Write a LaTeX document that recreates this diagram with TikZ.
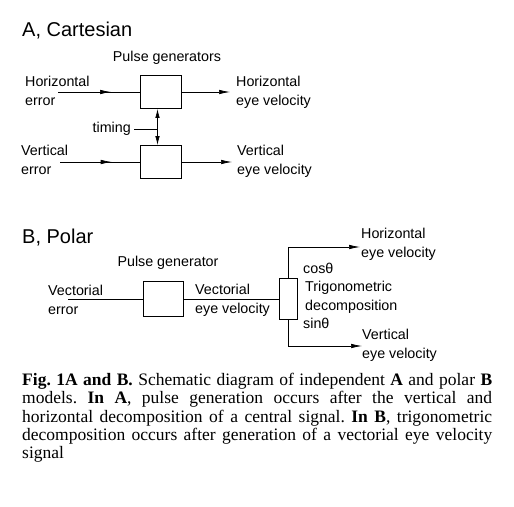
\documentclass[tikz,border=0pt]{standalone}
\usepackage{fontspec}
\setmainfont{Liberation Serif}
\setsansfont{Liberation Sans}
\usetikzlibrary{arrows.meta,decorations.markings}

\begin{document}
\begin{tikzpicture}[%
      x=1pt, y=-1pt,
      lbl/.style={font=\sffamily\fontsize{14.3}{19}\selectfont, inner sep=0pt, align=left},
      ttl/.style={font=\sffamily\fontsize{20}{24}\selectfont, inner sep=0pt},
      blk/.style={draw, line width=0.8pt, inner sep=0pt},
      sig/.style={line width=0.7pt},
      outarr/.style={sig, -{Latex[length=11pt,width=4.5pt]}},
      midarr/.style={sig, postaction={decorate},
        decoration={markings, mark=at position 0.65 with {\arrow{Latex[length=11pt,width=4.5pt]}}}},
      ]
      \useasboundingbox (0,0) rectangle (514,506);

      % A, Cartesian
      \node [ttl, anchor=west] (titA) at (22,31) {A, Cartesian};
      \node [lbl, anchor=center] (pgens) at (167,58) {Pulse generators};

      \node [blk, minimum width=41pt, minimum height=33pt] (hbox) at (160.5,92) {};
      \node [blk, minimum width=41pt, minimum height=33pt] (vbox) at (160.5,162) {};

      \node [lbl, anchor=west] (herr) at (25,91) {Horizontal\\error};
      \node [lbl, anchor=west] (verr) at (21,160) {Vertical\\error};
      \node [lbl, anchor=west] (hvel) at (236,92) {Horizontal\\eye velocity};
      \node [lbl, anchor=west] (vvel) at (237,161) {Vertical\\eye velocity};
      \node [lbl, anchor=east] (timing) at (131,129) {timing};

      \coordinate (hin) at (58,92);
      \coordinate (vin) at (60,162);
      \coordinate (hout) at (230,92);
      \coordinate (vout) at (232,162);

      \draw [midarr] (hin) -- (hbox.west);
      \draw [midarr] (vin) -- (vbox.west);
      \draw [outarr] (hbox.east) -- (hout);
      \draw [outarr] (vbox.east) -- (vout);
      \draw [sig, {Latex[length=9pt,width=4.5pt]}-{Latex[length=9pt,width=4.5pt]}]
            ([xshift=-3pt]hbox.south) -- ([xshift=-3pt]vbox.north);
      \draw [sig] ([xshift=3pt]timing.east) -- ([xshift=-3pt]hbox.south |- timing.east);

      % B, Polar
      \node [ttl, anchor=west] (titB) at (22,238) {B, Polar};
      \node [lbl, anchor=center] (pgen) at (168,263) {Pulse generator};

      \node [blk, minimum width=40pt, minimum height=35pt] (pbox) at (163,299) {};
      \node [blk, minimum width=18pt, minimum height=41pt] (tbox) at (288,299) {};

      \node [lbl, anchor=west] (vecerr) at (48,300) {Vectorial\\error};
      \node [lbl, anchor=west] (vecvel) at (195,300) {Vectorial\\eye velocity};
      \node [lbl, anchor=west] (cos) at (303,268) {cosθ};
      \node [lbl, anchor=west] (trig) at (305,297) {Trigonometric\\decomposition};
      \node [lbl, anchor=west] (sin) at (303,323) {sinθ};
      \node [lbl, anchor=west] (hvelB) at (361,244) {Horizontal\\eye velocity};
      \node [lbl, anchor=west] (vvelB) at (362,345) {Vertical\\eye velocity};

      \coordinate (vecin) at (68,299);
      \coordinate (houtB) at (360,247);
      \coordinate (voutB) at (362,346);

      \draw [sig] (vecin) -- (pbox.west);
      \draw [sig] (pbox.east) -- (tbox.west);
      \draw [outarr] (tbox.north) |- (houtB);
      \draw [outarr] (tbox.south) |- (voutB);

      % caption
      \node [anchor=north west, inner sep=0pt, text width=470pt, align=justify,
             font=\fontsize{17.5}{18.3}\selectfont\frenchspacing] (caption) at (22,373) {%
        \textbf{Fig.\ 1A and B.}\ Schematic diagram of independent \textbf{A} and polar \textbf{B}\linebreak
        models. \textbf{In A}, pulse generation occurs after the vertical and\linebreak
        horizontal decomposition of a central signal. \textbf{In B}, trigonometric\linebreak
        decomposition occurs after generation of a vectorial eye velocity\linebreak
        signal};
      \end{tikzpicture}
\end{document}
